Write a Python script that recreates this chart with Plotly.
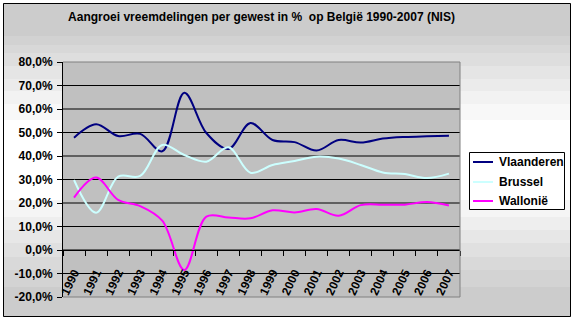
import plotly.graph_objects as go

# ---- data -------------------------------------------------------------
years = ["1990", "1991", "1992", "1993", "1994", "1995", "1996", "1997", "1998",
         "1999", "2000", "2001", "2002", "2003", "2004", "2005", "2006", "2007"]

vlaanderen = [47.8, 53.5, 48.5, 49.4, 42.0, 66.9, 49.8, 43.0, 54.0,
              46.8, 45.9, 42.3, 46.8, 45.7, 47.4, 48.1, 48.4, 48.6]
brussel = [29.8, 15.9, 31.2, 31.5, 44.7, 40.4, 37.6, 43.7, 32.9,
           36.2, 37.9, 39.7, 38.9, 36.2, 33.0, 32.3, 30.6, 32.5]
wallonie = [22.3, 30.8, 21.3, 18.7, 12.5, -8.5, 14.2, 13.8, 13.5,
            16.9, 16.0, 17.4, 14.6, 19.1, 19.3, 19.3, 20.4, 18.9]

series_names = ["Vlaanderen", "Brussel", "Wallonië"]
series_values = [vlaanderen, brussel, wallonie]
series_colors = ["#000080", "#ccffff", "#ff00ff"]

y_ticks = [-20, -10, 0, 10, 20, 30, 40, 50, 60, 70, 80]
y_tick_labels = [f"{v:.1f}".replace(".", ",") + "%" for v in y_ticks]

title_text = "Aangroei vreemdelingen per gewest in %\u00a0 op België 1990-2007 (NIS)"

# ---- layout geometry (pixels) ----------------------------------------
FIG_W, FIG_H = 576, 323
PL, PR, PT, PB = 63, 460, 62, 297          # plot area edges
PW, PH = PR - PL, PB - PT
FL, FR, FT, FB = 3, 571, 3, 317            # outer frame

def px_x(px):
    return (px - PL) / PW

def px_y(py):
    return (PB - py) / PH

FONT = "Liberation Sans, Arial, sans-serif"
PLOT_GREY = "#c0c0c0"

y_min, y_max = y_ticks[0], y_ticks[-1]

fig = go.Figure()

# plot-area fill and gridlines live on a hidden 0..1 x axis underneath the
# category axis that carries the data, so they are drawn before the lines
fig.add_trace(go.Scatter(
    x=[0, 1, 1, 0, 0], y=[y_min, y_min, y_max, y_max, y_min],
    xaxis="x", yaxis="y", mode="lines", fill="toself",
    fillcolor=PLOT_GREY, line=dict(width=0, color=PLOT_GREY),
    showlegend=False, hoverinfo="skip",
))
grid_x, grid_y = [], []
for v in y_ticks[1:-1]:
    grid_x += [0, 1, None]
    grid_y += [v, v, None]
fig.add_trace(go.Scatter(
    x=grid_x, y=grid_y, xaxis="x", yaxis="y", mode="lines",
    line=dict(color="black", width=1), showlegend=False, hoverinfo="skip",
))

for name, vals, color in zip(series_names, series_values, series_colors):
    fig.add_trace(go.Scatter(
        x=years, y=vals, name=name, mode="lines", xaxis="x2", yaxis="y",
        line=dict(color=color, width=2, shape="spline", smoothing=1.0),
        showlegend=False, hoverinfo="x+y+name",
    ))

shapes = []

def rect(x0, y0, x1, y1, fill, line=None, layer="below"):
    shapes.append(dict(type="rect", xref="paper", yref="paper", layer=layer,
                       x0=px_x(x0), x1=px_x(x1), y0=px_y(y1), y1=px_y(y0),
                       fillcolor=fill, line=line or dict(width=0)))

# banded grey-white-grey chart background, kept outside the plot area
bands = [
    (FT, 36, "#cccccc"), (36, 45, "#d2d2d2"), (45, 53, "#d8d8d8"),
    (53, 66, "#dedede"), (66, 79, "#e5e5e5"), (79, 91, "#ebebeb"),
    (91, 104, "#f2f2f2"), (104, 120, "#f8f8f8"), (120, 200, "#ffffff"),
    (200, 217, "#f5f5f5"), (217, 230, "#eeeeee"), (230, 243, "#e7e7e7"),
    (243, 257, "#e0e0e0"), (257, 270, "#d9d9d9"), (270, 287, "#d3d3d3"),
    (287, FB, "#cccccc"),
]
for top, bot, col in bands:
    if bot <= PT or top >= PB:
        rect(FL, top, FR, bot, col)
        continue
    rect(FL, top, PL, bot, col)
    rect(PR, top, FR, bot, col)
    if top < PT:
        rect(PL, top, PR, PT, col)
    if bot > PB:
        rect(PL, PB, PR, bot, col)

# outer frame
rect(FL + 0.5, FT + 0.5, FR - 0.5, FB - 0.5, "rgba(0,0,0,0)",
     line=dict(color="black", width=1))

# plot area border (top, right, bottom)
for x0, y0, x1, y1 in [(0, 1, 1, 1), (1, 0, 1, 1), (0, 0, 1, 0)]:
    shapes.append(dict(type="line", xref="paper", yref="paper", layer="above",
                       x0=x0, y0=y0, x1=x1, y1=y1,
                       line=dict(color="#808080", width=1)))

# legend box
rect(469.5, 152.5, 564.5, 209.5, "white", line=dict(color="black", width=1))

annotations = []
row_y = [162, 182, 201]
for name, color, ry in zip(series_names, series_colors, row_y):
    shapes.append(dict(type="line", xref="paper", yref="paper", layer="above",
                       x0=px_x(473), x1=px_x(493), y0=px_y(ry), y1=px_y(ry),
                       line=dict(color=color, width=2)))
    annotations.append(dict(xref="paper", yref="paper", x=px_x(497), y=px_y(ry),
                            xanchor="left", yanchor="middle", showarrow=False,
                            text=name,
                            font=dict(family=FONT, size=12, color="black",
                                      weight="bold")))

fig.update_layout(
    width=FIG_W, height=FIG_H,
    margin=dict(l=PL, r=FIG_W - PR, t=PT, b=FIG_H - PB, pad=0),
    paper_bgcolor="white",
    plot_bgcolor=PLOT_GREY,
    showlegend=False,
    shapes=shapes,
    annotations=annotations,
    title=dict(text=title_text, x=0.5, xref="paper", xanchor="center",
               y=1 - 17 / FIG_H, yref="container", yanchor="middle",
               font=dict(family=FONT, size=12, color="black", weight="bold")),
    font=dict(family=FONT, color="black"),
    xaxis=dict(range=[0, 1], visible=False, fixedrange=True),
    xaxis2=dict(
        type="category", range=[-0.5, len(years) - 0.5], overlaying="x",
        anchor="free", position=(0 - y_min) / (y_max - y_min), side="bottom",
        showline=True, linecolor="black", linewidth=1,
        ticks="outside", ticklen=5, tickcolor="black", tickwidth=1,
        tickson="boundaries", tickangle=-65, ticklabelstandoff=10,
        tickfont=dict(family=FONT, size=12, color="black", weight="bold"),
        showgrid=False, zeroline=False,
    ),
    yaxis=dict(
        range=[y_min, y_max], tickvals=y_ticks, ticktext=y_tick_labels,
        showgrid=False,
        showline=True, linecolor="black", linewidth=1,
        ticks="outside", ticklen=5, tickcolor="black", tickwidth=1,
        tickfont=dict(family=FONT, size=12, color="black", weight="bold"),
        ticklabelstandoff=2,
        zeroline=False,
    ),
)

fig.write_html("out.html")
